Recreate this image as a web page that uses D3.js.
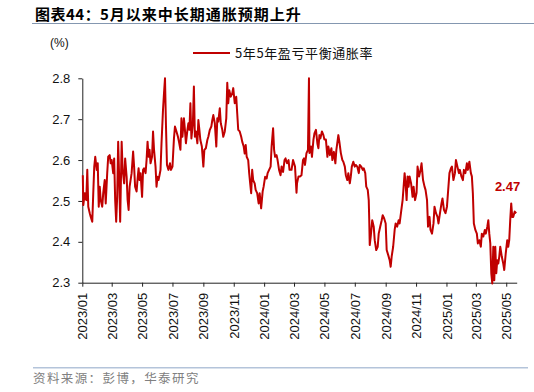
<!DOCTYPE html>
<html>
<head>
<meta charset="utf-8">
<script src="https://cdn.jsdelivr.net/npm/d3@7"></script>
<style>
body { margin: 0; background: #fff; }
text { font-family: "Liberation Sans", Arial, sans-serif; }
.cn { font-family: "Noto Sans CJK SC", "Liberation Sans", sans-serif; }
</style>
</head>
<body>
<svg id="chart" width="534" height="392"></svg>
<script>
// 5y5y breakeven inflation
var be2023 = [
  ["2023-01-02",2.563],["2023-01-03",2.49],["2023-01-06",2.519],["2023-01-09",2.502],["2023-01-11",2.576],
  ["2023-01-13",2.486],["2023-01-16",2.47],["2023-01-18",2.461],["2023-01-21",2.449],["2023-01-23",2.519],
  ["2023-01-25",2.584],["2023-01-27",2.608],["2023-01-30",2.576],["2023-02-01",2.592],["2023-02-03",2.486],
  ["2023-02-05",2.535],["2023-02-07",2.502],["2023-02-10",2.486],["2023-02-12",2.519],["2023-02-15",2.551],
  ["2023-02-17",2.494],["2023-02-20",2.568],["2023-02-22",2.608],["2023-02-25",2.612],["2023-02-27",2.592],
  ["2023-03-01",2.60],["2023-03-04",2.568],["2023-03-06",2.604],["2023-03-08",2.502],["2023-03-10",2.449],
  ["2023-03-12",2.51],["2023-03-14",2.645],["2023-03-16",2.559],["2023-03-18",2.449],["2023-03-21",2.645],
  ["2023-03-23",2.576],["2023-03-26",2.543],["2023-03-28",2.604],["2023-03-31",2.559],["2023-04-02",2.502],
  ["2023-04-04",2.478],["2023-04-06",2.535],["2023-04-10",2.568],["2023-04-13",2.621],["2023-04-15",2.584],
  ["2023-04-17",2.535],["2023-04-20",2.523],["2023-04-22",2.555],["2023-04-24",2.58],["2023-04-26",2.551],
  ["2023-04-28",2.568],["2023-05-01",2.51],["2023-05-03",2.576],["2023-05-05",2.58],["2023-05-08",2.568],
  ["2023-05-10",2.60],["2023-05-12",2.645],["2023-05-14",2.608],["2023-05-16",2.625],["2023-05-18",2.592],
  ["2023-05-21",2.608],["2023-05-23",2.67],["2023-05-25",2.625],["2023-05-28",2.584],["2023-05-30",2.535],
  ["2023-06-01",2.559],["2023-06-03",2.551],["2023-06-05",2.563],["2023-06-07",2.576],["2023-06-09",2.641],
  ["2023-06-12",2.723],["2023-06-14",2.763],["2023-06-16",2.80],["2023-06-18",2.682],["2023-06-20",2.588],
  ["2023-06-23",2.576],["2023-06-26",2.592],["2023-06-28",2.576],["2023-07-01",2.584],["2023-07-04",2.653],
  ["2023-07-06",2.682],["2023-07-09",2.67],["2023-07-12",2.657],["2023-07-14",2.645],["2023-07-17",2.625],
  ["2023-07-19",2.702],["2023-07-21",2.657],["2023-07-24",2.702],["2023-07-26",2.674],["2023-07-28",2.641],
  ["2023-07-31",2.674],["2023-08-02",2.69],["2023-08-04",2.674],["2023-08-06",2.739],["2023-08-08",2.653],
  ["2023-08-11",2.69],["2023-08-13",2.78],["2023-08-15",2.657],["2023-08-17",2.67],["2023-08-20",2.641],
  ["2023-08-22",2.698],["2023-08-24",2.674],["2023-08-26",2.649],["2023-08-29",2.633],["2023-09-01",2.584],
  ["2023-09-03",2.625],["2023-09-06",2.629],["2023-09-09",2.649],["2023-09-11",2.657],["2023-09-14",2.674],
  ["2023-09-17",2.682],["2023-09-19",2.698],["2023-09-21",2.71],["2023-09-24",2.69],["2023-09-27",2.633],
  ["2023-09-29",2.702],["2023-10-01",2.694],["2023-10-04",2.727],["2023-10-06",2.69],["2023-10-09",2.674],
  ["2023-10-11",2.657],["2023-10-14",2.67],["2023-10-17",2.702],["2023-10-19",2.789],["2023-10-21",2.739],
  ["2023-10-23",2.771],["2023-10-26",2.755],["2023-10-29",2.763],["2023-10-31",2.776],["2023-11-03",2.739],
  ["2023-11-06",2.755],["2023-11-08",2.714],["2023-11-10",2.674],["2023-11-13",2.67],["2023-11-16",2.657],
  ["2023-11-18",2.645],["2023-11-21",2.633],["2023-11-23",2.616],["2023-11-25",2.637],["2023-11-27",2.608],
  ["2023-11-30",2.60],["2023-12-02",2.568],["2023-12-04",2.543],["2023-12-06",2.519],["2023-12-08",2.576],
  ["2023-12-10",2.551],["2023-12-13",2.543],["2023-12-15",2.527],["2023-12-18",2.519],["2023-12-21",2.494],
  ["2023-12-23",2.519],["2023-12-26",2.482],["2023-12-29",2.523],["2023-12-31",2.535]
];
var be2024 = [
  ["2024-01-03",2.559],["2024-01-06",2.555],["2024-01-08",2.568],["2024-01-11",2.576],["2024-01-14",2.584],
  ["2024-01-16",2.633],["2024-01-19",2.678],["2024-01-21",2.625],["2024-01-23",2.608],["2024-01-26",2.612],
  ["2024-01-28",2.60],["2024-01-31",2.576],["2024-02-03",2.563],["2024-02-05",2.584],["2024-02-08",2.571],
  ["2024-02-11",2.60],["2024-02-13",2.604],["2024-02-16",2.592],["2024-02-19",2.60],["2024-02-21",2.576],
  ["2024-02-25",2.576],["2024-02-28",2.60],["2024-03-03",2.584],["2024-03-06",2.52],["2024-03-07",2.543],
  ["2024-03-10",2.56],["2024-03-13",2.56],["2024-03-16",2.563],["2024-03-19",2.60],["2024-03-21",2.604],
  ["2024-03-23",2.588],["2024-03-26",2.617],["2024-03-29",2.625],["2024-03-31",2.80],["2024-04-01",2.617],
  ["2024-04-04",2.633],["2024-04-06",2.608],["2024-04-09",2.65],["2024-04-11",2.665],["2024-04-14",2.674],
  ["2024-04-17",2.64],["2024-04-19",2.629],["2024-04-21",2.661],["2024-04-23",2.653],["2024-04-26",2.67],
  ["2024-04-29",2.661],["2024-05-01",2.65],["2024-05-04",2.65],["2024-05-07",2.608],["2024-05-09",2.633],
  ["2024-05-12",2.612],["2024-05-15",2.629],["2024-05-17",2.60],["2024-05-20",2.62],["2024-05-23",2.592],
  ["2024-05-25",2.625],["2024-05-29",2.661],["2024-05-31",2.645],["2024-06-03",2.617],["2024-06-06",2.60],
  ["2024-06-08",2.596],["2024-06-11",2.584],["2024-06-13",2.563],["2024-06-16",2.551],["2024-06-18",2.568],
  ["2024-06-21",2.543],["2024-06-23",2.56],["2024-06-25",2.584],["2024-06-28",2.596],["2024-07-01",2.584],
  ["2024-07-03",2.588],["2024-07-06",2.584],["2024-07-09",2.568],["2024-07-11",2.588],["2024-07-14",2.584],
  ["2024-07-17",2.576],["2024-07-19",2.58],["2024-07-22",2.568],["2024-07-24",2.535],["2024-07-27",2.527],
  ["2024-07-29",2.502],["2024-07-30",2.453],["2024-07-31",2.392],["2024-08-02",2.413],["2024-08-05",2.453],
  ["2024-08-08",2.437],["2024-08-10",2.404],["2024-08-13",2.38],["2024-08-16",2.388],["2024-08-18",2.42],
  ["2024-08-21",2.437],["2024-08-24",2.453],["2024-08-26",2.465],["2024-08-29",2.457],["2024-09-01",2.445],
  ["2024-09-03",2.38],["2024-09-06",2.368],["2024-09-09",2.355],["2024-09-11",2.339],["2024-09-13",2.364],
  ["2024-09-16",2.388],["2024-09-19",2.429],["2024-09-21",2.445],["2024-09-24",2.437],["2024-09-27",2.453],
  ["2024-09-29",2.445],["2024-10-02",2.474],["2024-10-05",2.502],["2024-10-07",2.535],["2024-10-09",2.568],
  ["2024-10-11",2.543],["2024-10-13",2.502],["2024-10-15",2.56],["2024-10-17",2.535],["2024-10-19",2.56],
  ["2024-10-22",2.543],["2024-10-25",2.51],["2024-10-27",2.535],["2024-10-30",2.502],["2024-11-02",2.52],
  ["2024-11-04",2.584],["2024-11-07",2.56],["2024-11-10",2.576],["2024-11-12",2.592],["2024-11-15",2.551],
  ["2024-11-18",2.535],["2024-11-20",2.527],["2024-11-23",2.502],["2024-11-25",2.437],["2024-11-28",2.461],
  ["2024-11-30",2.429],["2024-12-03",2.42],["2024-12-06",2.445],["2024-12-08",2.486],["2024-12-11",2.47],
  ["2024-12-14",2.461],["2024-12-16",2.445],["2024-12-19",2.47],["2024-12-22",2.494],["2024-12-24",2.506],
  ["2024-12-27",2.478],["2024-12-30",2.47]
];
var be2025 = [
  ["2025-01-02",2.486],["2025-01-04",2.519],["2025-01-07",2.568],["2025-01-10",2.58],["2025-01-12",2.584],
  ["2025-01-15",2.551],["2025-01-18",2.568],["2025-01-20",2.60],["2025-01-23",2.584],["2025-01-26",2.568],
  ["2025-01-28",2.576],["2025-01-31",2.56],["2025-02-03",2.551],["2025-02-05",2.576],["2025-02-08",2.568],
  ["2025-02-11",2.592],["2025-02-13",2.576],["2025-02-16",2.596],["2025-02-19",2.568],["2025-02-21",2.56],
  ["2025-02-23",2.519],["2025-02-25",2.445],["2025-02-28",2.429],["2025-03-03",2.42],["2025-03-05",2.396],
  ["2025-03-08",2.404],["2025-03-11",2.388],["2025-03-13",2.42],["2025-03-16",2.413],["2025-03-19",2.429],
  ["2025-03-21",2.42],["2025-03-24",2.437],["2025-03-26",2.453],["2025-03-28",2.42],["2025-03-30",2.396],
  ["2025-04-01",2.323],["2025-04-03",2.298],["2025-04-05",2.388],["2025-04-07",2.306],["2025-04-09",2.388],
  ["2025-04-11",2.323],["2025-04-13",2.355],["2025-04-15",2.347],["2025-04-17",2.364],["2025-04-19",2.388],
  ["2025-04-22",2.364],["2025-04-25",2.347],["2025-04-27",2.331],["2025-04-30",2.372],["2025-05-03",2.404],
  ["2025-05-05",2.388],["2025-05-07",2.404],["2025-05-09",2.453],["2025-05-11",2.494],["2025-05-13",2.461],
  ["2025-05-15",2.461],["2025-05-18",2.474],["2025-05-21",2.47]
];
var yTicks = [2.3, 2.4, 2.5, 2.6, 2.7, 2.8];
var xTickDates = ["2023-01-01","2023-03-01","2023-05-01","2023-07-01","2023-09-01","2023-11-01","2024-01-01",
  "2024-03-01","2024-05-01","2024-07-01","2024-09-01","2024-11-01","2025-01-01","2025-03-01","2025-05-01"];
var seriesName = "5年5年盈亏平衡通胀率";
var lastLabel = "2.47";

var parse = d3.timeParse("%Y-%m-%d");
var data = be2023.concat(be2024, be2025).map(function(d) { return { date: parse(d[0]), value: d[1] }; });

var svg = d3.select("#chart");
var red = "#c00000";

var x = d3.scaleTime()
    .domain([parse("2023-01-01"), parse("2025-05-22")])
    .range([82.3, 516.7]);
var y = d3.scaleLinear()
    .domain([2.3, 2.8])
    .range([282.7, 78.3]);

// title + rule
svg.append("text").attr("class", "cn").attr("x", 35).attr("y", 20)
    .style("font-size", "15px").style("font-weight", "bold").style("letter-spacing", "0.5px").attr("fill", "#000")
    .text("图表44：");
svg.append("text").attr("class", "cn").attr("x", 100).attr("y", 20)
    .style("font-size", "15px").style("font-weight", "bold").style("letter-spacing", "1px").attr("fill", "#000")
    .text("5月以来中长期通胀预期上升");
svg.append("line").attr("x1", 32).attr("x2", 534).attr("y1", 23.5).attr("y2", 23.5)
    .attr("stroke", "#8497b0").attr("stroke-width", 1.2);

svg.append("text").attr("x", 50).attr("y", 47).style("font-size", "12px").attr("fill", "#111").text("(%)");

// legend
svg.append("line").attr("x1", 193).attr("x2", 230).attr("y1", 53).attr("y2", 53)
    .attr("stroke", red).attr("stroke-width", 2);
svg.append("text").attr("class", "cn").attr("x", 235).attr("y", 57.5)
    .style("font-size", "13px").style("letter-spacing", "0.6px").attr("fill", "#111").text(seriesName);

// axes
var yAxis = svg.append("g").attr("transform", "translate(" + x.range()[0] + ",0)")
    .call(d3.axisLeft(y).tickValues(yTicks).tickFormat(d3.format(".1f")).tickSize(4).tickSizeOuter(0).tickPadding(8));
yAxis.selectAll("text").style("font-size", "13px").attr("fill", "#111");

var xAxis = svg.append("g").attr("transform", "translate(0," + y.range()[0] + ")")
    .call(d3.axisBottom(x).tickValues(xTickDates.map(parse)).tickFormat(d3.timeFormat("%Y/%m")).tickSize(4).tickSizeOuter(0));
xAxis.selectAll("text")
    .attr("transform", "rotate(-90)")
    .attr("text-anchor", "end")
    .attr("x", -10).attr("y", 0).attr("dy", "0.35em")
    .style("font-size", "13px").attr("fill", "#111");

svg.selectAll(".domain, .tick line").attr("stroke", "#222");

// series
var line = d3.line()
    .x(function(d) { return x(d.date); })
    .y(function(d) { return y(d.value); });

svg.append("path").datum(data)
    .attr("fill", "none").attr("stroke", red).attr("stroke-width", 2)
    .attr("stroke-linejoin", "round")
    .attr("d", line);

var last = data[data.length - 1];
svg.append("text")
    .attr("x", x(last.date) + 4).attr("y", y(last.value) - 22)
    .attr("text-anchor", "end")
    .style("font-size", "13px").style("font-weight", "bold").attr("fill", red)
    .text(lastLabel);

// footer
svg.append("line").attr("x1", 33).attr("x2", 528).attr("y1", 367.7).attr("y2", 367.7)
    .attr("stroke", "#b4c4da").attr("stroke-width", 1.5);
svg.append("text").attr("class", "cn").attr("x", 33).attr("y", 383)
    .style("font-size", "12.5px").style("letter-spacing", "1.4px").attr("fill", "#808080")
    .text("资料来源：彭博，华泰研究");
</script>
</body>
</html>
